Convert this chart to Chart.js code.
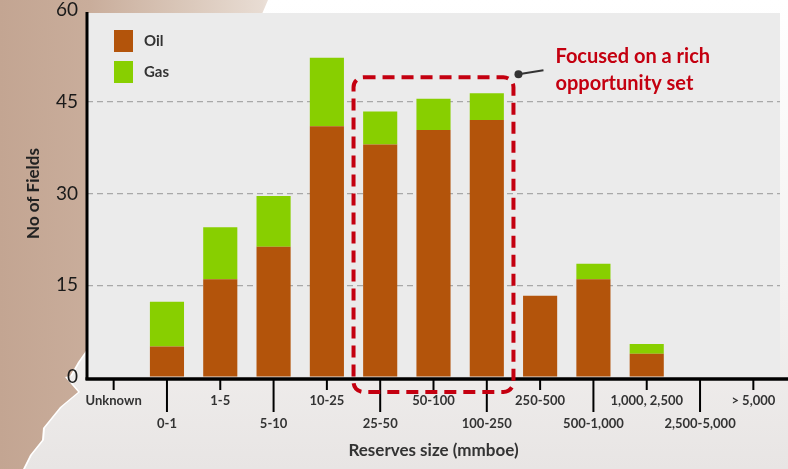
<!DOCTYPE html>
<html>
<head>
<meta charset="utf-8">
<script src="https://cdn.jsdelivr.net/npm/chart.js@4.4.1/dist/chart.umd.min.js"></script>
<style>
    html, body { margin: 0; padding: 0; }
    body {
        width: 788px; height: 469px; overflow: hidden; position: relative;
        background: linear-gradient(180deg, #ffffff 0%, #f4f2f1 60%, #e8e5e4 100%);
    }
    /* map-ish brown backdrop on the left, with a pale coastline */
    .land {
        position: absolute; left: 0; top: 0; width: 788px; height: 469px;
        clip-path: polygon(0 0, 268px 0, 262px 14px, 90px 14px, 90px 345px, 78px 362px, 70px 376px,
            65px 377px, 78px 392px, 60px 407px, 43px 428px, 42px 440px, 30px 455px, 23px 469px, 0 469px);
    }
    #coast { background: #ffffff; transform: translateX(2px); }
    #backdrop {
        background: linear-gradient(90deg, #c3a592 0px, #c9ad9b 90px, #d9c6b8 180px, #e8dcd3 262px, #efe7e1 275px);
    }
    #wrap { position: absolute; left: 0; top: 0; width: 788px; height: 469px; }
</style>
</head>
<body>
<div id="coast" class="land"></div>
<div id="backdrop" class="land"></div>
<div id="wrap"><canvas id="fieldsChart"></canvas></div>
<script>
// Data
const categories = ['Unknown', '0-1', '1-5', '5-10', '10-25', '25-50', '50-100', '100-250',
    '250-500', '500-1,000', '1,000, 2,500', '2,500-5,000', '> 5,000'];
const oilFields = [0, 5, 16, 21.3, 41, 38, 40.4, 42, 13.3, 16, 3.8, 0, 0];
const gasFields = [0, 7.3, 8.5, 8.3, 11.2, 5.4, 5.1, 4.4, 0, 2.5, 1.6, 0, 0];
const yTicks = [0, 15, 30, 45, 60];
const focusFrom = '25-50';
const focusTo = '100-250';
const focusNote = ['Focused on a rich', 'opportunity set'];

const OIL = '#b3540b';
const GAS = '#88cf00';
const RED = '#c40010';
const FONT = 'Lato, "Open Sans", sans-serif';

// Plot background + axes, tick marks, focus box, legend
const decor = {
    id: 'decor',
    beforeDraw(chart) {
        const { ctx, chartArea: a } = chart;
        ctx.save();
        ctx.fillStyle = '#ebebeb';
        ctx.fillRect(a.left, a.top + 3, a.right - a.left, a.bottom - a.top - 3);
        ctx.restore();
    },
    afterDraw(chart) {
        const { ctx, chartArea: a, scales } = chart;
        const x = scales.x, y = scales.y;
        ctx.save();

        // axis lines
        ctx.strokeStyle = '#000';
        ctx.lineWidth = 3;
        ctx.beginPath();
        ctx.moveTo(a.left, a.top + 2);
        ctx.lineTo(a.left, a.bottom + 3);
        ctx.stroke();
        ctx.lineWidth = 3.5;
        ctx.beginPath();
        ctx.moveTo(a.left - 1.5, a.bottom + 2);
        ctx.lineTo(chart.width, a.bottom + 2);
        ctx.stroke();

        // alternating tick marks
        ctx.lineWidth = 2;
        categories.forEach((c, i) => {
            const px = x.getPixelForValue(i);
            ctx.beginPath();
            ctx.moveTo(px, a.bottom + 3);
            ctx.lineTo(px, a.bottom + (i % 2 ? 35 : 13));
            ctx.stroke();
        });

        // dashed focus box
        const i0 = categories.indexOf(focusFrom), i1 = categories.indexOf(focusTo);
        const bl = (x.getPixelForValue(i0 - 1) + x.getPixelForValue(i0)) / 2;
        const br = (x.getPixelForValue(i1) + x.getPixelForValue(i1 + 1)) / 2;
        const bt = y.getPixelForValue(49);
        const bb = a.bottom + 15;
        ctx.strokeStyle = RED;
        ctx.lineWidth = 4;
        ctx.setLineDash([12, 7]);
        ctx.beginPath();
        ctx.roundRect(bl, bt, br - bl, bb - bt, 10);
        ctx.stroke();
        ctx.setLineDash([]);

        // callout
        ctx.fillStyle = '#333';
        ctx.strokeStyle = '#333';
        ctx.lineWidth = 2;
        ctx.beginPath();
        ctx.arc(br + 5, bt - 3, 4, 0, Math.PI * 2);
        ctx.fill();
        ctx.beginPath();
        ctx.moveTo(br + 5, bt - 3);
        ctx.lineTo(br + 30, bt - 7);
        ctx.stroke();
        ctx.fillStyle = RED;
        ctx.font = 'bold 20px ' + FONT;
        ctx.textBaseline = 'middle';
        ctx.textAlign = 'left';
        focusNote.forEach((t, k) => ctx.fillText(t, br + 42, bt - 21 + k * 27));

        // legend
        ctx.font = 'bold 15px ' + FONT;
        chart.data.datasets.forEach((ds, k) => {
            const ly = a.top + 20 + k * 31;
            ctx.fillStyle = ds.backgroundColor;
            ctx.fillRect(a.left + 27, ly, 19, 22);
            ctx.fillStyle = '#333';
            ctx.fillText(ds.label, a.left + 57, ly + 11);
        });
        ctx.restore();
    }
};

document.addEventListener('DOMContentLoaded', () => {
    const ctx = document.getElementById('fieldsChart').getContext('2d');
    new Chart(ctx, {
        type: 'bar',
        data: {
            labels: categories,
            datasets: [
                { label: 'Oil', data: oilFields, backgroundColor: OIL },
                { label: 'Gas', data: gasFields, backgroundColor: GAS }
            ]
        },
        options: {
            responsive: true,
            maintainAspectRatio: false,
            animation: false,
            layout: { padding: { top: 10, right: 8, left: 0, bottom: 0 } },
            datasets: { bar: { categoryPercentage: 1, barPercentage: 0.64, borderWidth: 0 } },
            plugins: { legend: { display: false }, tooltip: { enabled: false } },
            scales: {
                x: {
                    stacked: true,
                    grid: { display: false },
                    border: { display: false },
                    ticks: {
                        autoSkip: false,
                        maxRotation: 0,
                        padding: 4,
                        color: '#333',
                        font: { family: FONT, size: 13, weight: 'bold', lineHeight: 1.8 },
                        callback: (v, i) => i % 2 ? ['', categories[i]] : categories[i]
                    },
                    title: {
                        display: true,
                        text: 'Reserves size (mmboe)',
                        color: '#333',
                        font: { family: FONT, size: 17, weight: 'bold' },
                        padding: { top: 0, bottom: 8 }
                    },
                    afterFit: s => { s.height = 92; s.paddingLeft = 0; s.paddingRight = 0; }
                },
                y: {
                    stacked: true,
                    min: yTicks[0],
                    max: yTicks[yTicks.length - 1],
                    afterBuildTicks: s => { s.ticks = yTicks.map(v => ({ value: v })); },
                    grid: {
                        drawTicks: false,
                        lineWidth: 1.2,
                        color: c => (c.tick.value > 0 && c.tick.value < 60) ? '#a8a8a8' : 'transparent'
                    },
                    border: { display: false, dash: [6, 4] },
                    ticks: { padding: 9, color: '#1a1a1a', font: { family: FONT, size: 19 } },
                    title: {
                        display: true,
                        text: 'No of Fields',
                        color: '#222',
                        font: { family: FONT, size: 17, weight: 'bold' },
                        padding: { top: 23, bottom: 0 }
                    },
                    afterFit: s => { s.width = 87; s.paddingTop = 0; s.paddingBottom = 0; }
                }
            }
        },
        plugins: [decor]
    });
});
</script>
</body>
</html>
